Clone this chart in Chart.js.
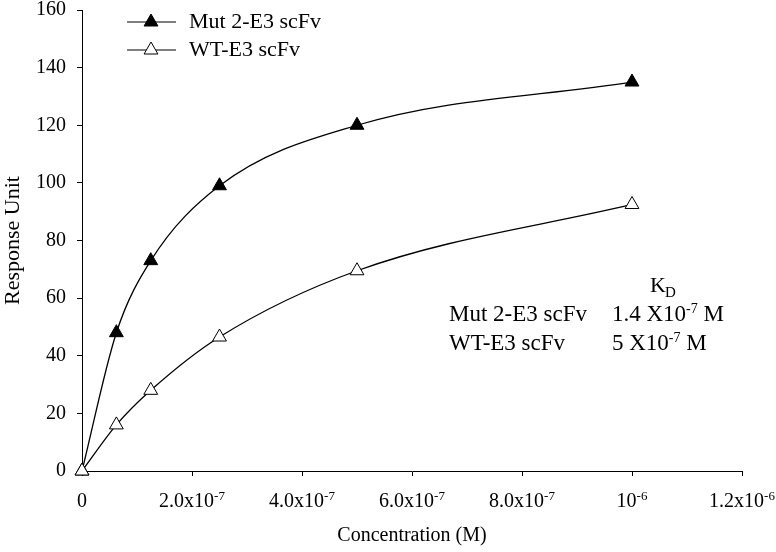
<!DOCTYPE html>
<html>
<head>
<meta charset="utf-8">
<script src="https://cdn.jsdelivr.net/npm/chart.js@4/dist/chart.umd.min.js"></script>
<style>
  html, body { margin: 0; padding: 0; background: #fff; }
  #wrap { width: 776px; height: 552px; }
</style>
</head>
<body>
<div id="wrap"><canvas id="bindingChart" width="776" height="552"></canvas></div>
<script>
// data
const concentrations = [0, 6.25e-8, 1.25e-7, 2.5e-7, 5e-7, 1e-6];
const mutResponse = [0, 48, 73, 99, 120, 135];
const wtResponse = [0, 16, 28, 46.5, 69.5, 92.5];
const seriesNames = ['Mut 2-E3 scFv', 'WT-E3 scFv'];
const kdValues = [['1.4 X10', '-7', ' M'], ['5 X10', '-7', ' M']];

// x tick labels: base text + superscript exponent
const xTickBase = ['0', '2.0x10', '4.0x10', '6.0x10', '8.0x10', '10', '1.2x10'];
const xTickExp = ['', '-7', '-7', '-7', '-7', '-6', '-6'];

const FONT = '"Liberation Serif", "Times New Roman", serif';

function toPoints(ys) {
  return concentrations.map((c, i) => ({ x: c, y: ys[i] }));
}

// draw "base" followed by a raised smaller "exp"
function drawSup(ctx, base, exp, tail, x, y, size, supSize, align) {
  ctx.font = size + 'px ' + FONT;
  const wb = ctx.measureText(base).width;
  ctx.font = supSize + 'px ' + FONT;
  const we = ctx.measureText(exp).width;
  ctx.font = size + 'px ' + FONT;
  const wt = tail ? ctx.measureText(tail).width : 0;
  const total = wb + we + wt;
  let left = x;
  if (align === 'center') left = x - total / 2;
  ctx.textAlign = 'left';
  ctx.textBaseline = 'alphabetic';
  ctx.fillText(base, left, y);
  ctx.font = supSize + 'px ' + FONT;
  ctx.fillText(exp, left + wb, y - size * 0.36);
  if (tail) {
    ctx.font = size + 'px ' + FONT;
    ctx.fillText(tail, left + wb + we, y);
  }
}

const tickLabelsPlugin = {
  id: 'xTickLabels',
  afterDraw(chart) {
    const ctx = chart.ctx;
    const xs = chart.scales.x;
    ctx.save();
    ctx.fillStyle = '#000';
    xs.ticks.forEach((t, i) => {
      const px = xs.getPixelForValue(t.value);
      drawSup(ctx, xTickBase[i] || '', xTickExp[i] || '', '', px, xs.top + 36, 20, 13, 'center');
    });
    ctx.restore();
  }
};

const legendPlugin = {
  id: 'innerLegend',
  afterDraw(chart) {
    const ctx = chart.ctx;
    ctx.save();
    chart.data.datasets.forEach((ds, i) => {
      const y = 22 + i * 28;
      ctx.strokeStyle = '#000';
      ctx.lineWidth = 1.2;
      ctx.beginPath();
      ctx.moveTo(127, y);
      ctx.lineTo(176, y);
      ctx.stroke();
      ctx.fillStyle = ds.pointBackgroundColor;
      ctx.strokeStyle = '#000';
      ctx.lineWidth = 1;
      Chart.helpers.drawPoint(ctx, { pointStyle: 'triangle', radius: 8, borderWidth: 1, rotation: 0 }, 151, y);
      ctx.fillStyle = '#000';
      ctx.font = '22px ' + FONT;
      ctx.textAlign = 'left';
      ctx.textBaseline = 'middle';
      ctx.fillText(ds.label, 189, y);
    });
    ctx.restore();
  }
};

const kdPlugin = {
  id: 'kdTable',
  afterDraw(chart) {
    const ctx = chart.ctx;
    ctx.save();
    ctx.fillStyle = '#000';
    ctx.textBaseline = 'alphabetic';
    ctx.textAlign = 'left';
    ctx.font = '22px ' + FONT;
    ctx.fillText('K', 650, 292);
    ctx.font = '15px ' + FONT;
    ctx.fillText('D', 665, 297);
    seriesNames.forEach((name, i) => {
      const y = 321 + i * 29;
      ctx.font = '23px ' + FONT;
      ctx.textAlign = 'left';
      ctx.fillText(name, 449, y);
      drawSup(ctx, kdValues[i][0], kdValues[i][1], kdValues[i][2], 612, y, 23, 14, 'left');
    });
    ctx.restore();
  }
};

const ctx = document.getElementById('bindingChart').getContext('2d');
new Chart(ctx, {
  type: 'line',
  data: {
    datasets: [
      {
        label: seriesNames[0],
        data: toPoints(mutResponse),
        order: 1,
        borderColor: '#000',
        borderWidth: 1.3,
        pointStyle: 'triangle',
        pointRadius: 8,
        pointBackgroundColor: '#000',
        pointBorderColor: '#000',
        pointBorderWidth: 1,
        cubicInterpolationMode: 'monotone',
        clip: false,
        fill: false
      },
      {
        label: seriesNames[1],
        data: toPoints(wtResponse),
        order: 0,
        borderColor: '#000',
        borderWidth: 1.3,
        pointStyle: 'triangle',
        pointRadius: 8,
        pointBackgroundColor: '#fff',
        pointBorderColor: '#000',
        pointBorderWidth: 1,
        cubicInterpolationMode: 'monotone',
        clip: false,
        fill: false
      }
    ]
  },
  options: {
    responsive: false,
    animation: false,
    devicePixelRatio: 1,
    layout: { autoPadding: false, padding: { top: 10, right: 34, left: 0, bottom: 0 } },
    scales: {
      x: {
        type: 'linear',
        min: 0,
        max: 1.2e-6,
        afterFit(scale) {
          scale.height = 81;
          scale.paddingLeft = 0;
          scale.paddingRight = 0;
        },
        ticks: { display: false, stepSize: 2e-7 },
        grid: { display: true, drawOnChartArea: false, drawTicks: true, tickLength: 5, color: '#000' },
        border: { color: '#000', width: 1 },
        title: {
          display: true,
          text: 'Concentration (M)',
          color: '#000',
          font: { family: FONT, size: 20 },
          padding: { top: 0, bottom: 4 }
        }
      },
      y: {
        min: 0,
        max: 160,
        afterFit(scale) {
          scale.width = 82;
          scale.paddingTop = 0;
          scale.paddingBottom = 0;
        },
        ticks: {
          stepSize: 20,
          color: '#000',
          padding: 11,
          font: { family: FONT, size: 20 }
        },
        grid: { display: true, drawOnChartArea: false, drawTicks: true, tickLength: 5, color: '#000' },
        border: { color: '#000', width: 1 },
        title: {
          display: true,
          text: 'Response Unit',
          color: '#000',
          font: { family: FONT, size: 22 },
          padding: { top: 0, bottom: 0 }
        }
      }
    },
    plugins: {
      legend: { display: false },
      tooltip: { enabled: false }
    }
  },
  plugins: [tickLabelsPlugin, legendPlugin, kdPlugin]
});
</script>
</body>
</html>
